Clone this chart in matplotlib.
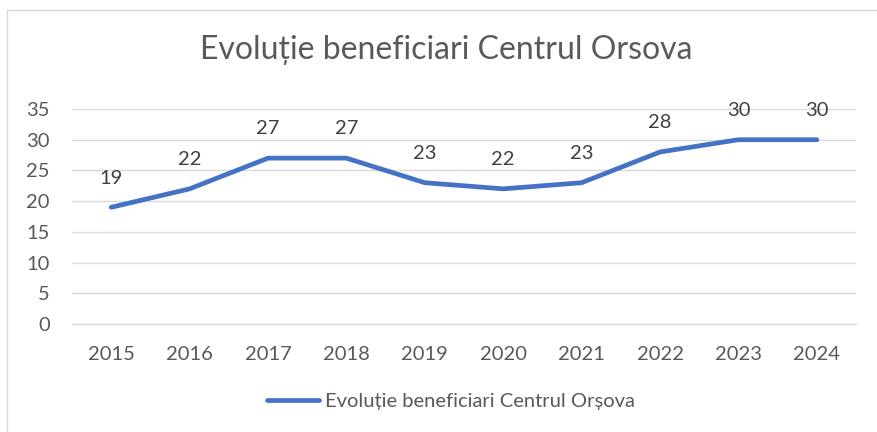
import numpy as np
import matplotlib
matplotlib.use("Agg")
import matplotlib.pyplot as plt
from matplotlib.lines import Line2D

years = ["2015", "2016", "2017", "2018", "2019", "2020", "2021", "2022", "2023", "2024"]
values = [19, 22, 27, 27, 23, 22, 23, 28, 30, 30]
title = "Evoluție beneficiari Centrul Orsova"
series_name = "Evoluție beneficiari Centrul Orșova"
yticks = [0, 5, 10, 15, 20, 25, 30, 35]

LINE = "#4472C4"
GRID = "#D9D9D9"
TXT = "#595959"
LBL = "#404040"
FONT = ["Lato", "DejaVu Sans"]

plt.rcParams['font.family'] = FONT
FS = 14.5

fig = plt.figure(figsize=(8.77, 4.32), dpi=100)
ax = fig.add_axes([72/877, 1-324/432, 784/877, 215/432])

x = np.arange(len(years))
ax.plot(x, values, color=LINE, lw=3.4, solid_capstyle='round',
        solid_joinstyle='round', zorder=3)

for xi, v in zip(x, values):
    ax.annotate(str(v), (xi, v), xytext=(0, 21), textcoords='offset points',
                ha='center', va='center', fontsize=FS, color=LBL, zorder=4)

ax.set_xlim(-0.5, len(years) - 0.5)
ax.set_ylim(0, 35)
ax.set_yticks(yticks)
ax.set_yticklabels([str(t) for t in yticks])
ax.set_xticks(x)
ax.set_xticklabels(years)
ax.tick_params(axis='both', length=0, labelsize=FS, labelcolor=TXT)
ax.tick_params(axis='y', pad=16)
ax.tick_params(axis='x', pad=16)
ax.grid(axis='y', color=GRID, lw=1)
ax.set_axisbelow(True)
for s in ['top', 'right', 'left']:
    ax.spines[s].set_visible(False)
ax.spines['bottom'].set_color(GRID)
ax.spines['bottom'].set_linewidth(1)

fig.text(446/877, 1-50/432, title, ha='center', va='center', fontsize=23, color=TXT)

handle = Line2D([], [], color=LINE, lw=3.4, solid_capstyle='round')
fig.legend([handle], [series_name], loc='center', bbox_to_anchor=(451/877, 1-401/432),
           frameon=False, fontsize=FS, labelcolor=TXT, handlelength=2.6, handletextpad=0.3)

# chart area border (partially visible)
fig.add_artist(Line2D([7/877, 7/877], [0, 1-10/432], transform=fig.transFigure, color=GRID, lw=1))
fig.add_artist(Line2D([7/877, 1], [1-10/432, 1-10/432], transform=fig.transFigure, color=GRID, lw=1))

fig.savefig("out.png", dpi=100)
